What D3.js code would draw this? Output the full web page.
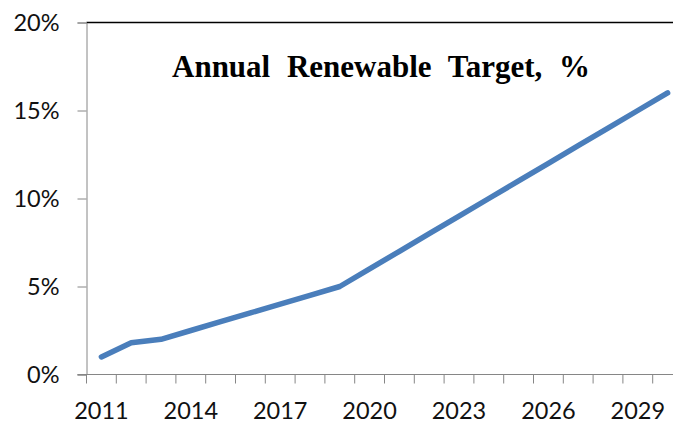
<!DOCTYPE html>
<html><head><meta charset="utf-8">
<script src="https://cdn.jsdelivr.net/npm/d3@7"></script>
<style>
html,body{margin:0;padding:0;background:#fff;}
svg{display:block;}
</style></head>
<body>
<svg id="chart" width="673" height="425"></svg>
<script>
const years = [2011,2012,2013,2014,2015,2016,2017,2018,2019,2020,2021,2022,2023,2024,2025,2026,2027,2028,2029,2030];
const targets = [0.010,0.018,0.020,0.025,0.030,0.035,0.040,0.045,0.050,0.060,0.070,0.080,0.090,0.100,0.110,0.120,0.130,0.140,0.150,0.160];
const yTicks = [0,0.05,0.10,0.15,0.20];
const xLabelYears = [2011,2014,2017,2020,2023,2026,2029];
const title = "Annual Renewable Target, %";

(function(){
const svg = d3.select("#chart");
const mLeft = 86.5, mRight = 86.5 + 20 * 29.8, mTop = 22.5, mBottom = 374.5;

const x = d3.scaleBand().domain(years).range([mLeft, mRight]).paddingInner(0).paddingOuter(0);
const y = d3.scaleLinear().domain([0,0.20]).range([mBottom, mTop]);

// top border line
svg.append("line").attr("x1", mLeft).attr("x2", 673).attr("y1", mTop).attr("y2", mTop)
  .attr("stroke", "#000").attr("stroke-width", 1.5);

// y axis
const yAxis = d3.axisLeft(y).tickValues(yTicks).tickSize(9).tickPadding(18)
  .tickFormat(d => Math.round(d*100) + "%");
const gy = svg.append("g").attr("transform", `translate(${mLeft},0)`).call(yAxis);
gy.select(".domain").attr("stroke", "#868686");
gy.selectAll(".tick line").attr("stroke", "#868686");
gy.selectAll(".tick text").attr("font-family", "Lato, 'Open Sans', sans-serif")
  .attr("font-size", 23.5).attr("fill", "#111");

// x axis: ticks between categories
const boundaries = d3.range(years.length + 1).map(i => mLeft + i * x.bandwidth());
const gx = svg.append("g");
gx.append("line").attr("x1", mLeft - 9).attr("x2", 673).attr("y1", mBottom).attr("y2", mBottom)
  .attr("stroke", "#868686");
gx.selectAll("line.tk").data(boundaries).join("line").attr("class","tk")
  .attr("x1", d => d).attr("x2", d => d).attr("y1", mBottom).attr("y2", mBottom + 9)
  .attr("stroke", "#868686");
gx.selectAll("text").data(xLabelYears).join("text")
  .attr("x", d => x(d) + x.bandwidth()/2).attr("y", 419)
  .attr("text-anchor", "middle")
  .attr("font-family", "Lato, 'Open Sans', sans-serif").attr("font-size", 23.5).attr("fill", "#111")
  .text(d => d);

// line
const line = d3.line().x((d,i) => x(years[i]) + x.bandwidth()/2).y(d => y(d));
svg.append("path").datum(targets).attr("d", line).attr("fill", "none")
  .attr("stroke", "#4a7ebb").attr("stroke-width", 5.5)
  .attr("stroke-linejoin", "round").attr("stroke-linecap", "round");

// title
svg.append("text").attr("x", 381).attr("y", 77).attr("text-anchor", "middle")
  .attr("font-family", "'Liberation Serif', 'Times New Roman', serif")
  .attr("font-weight", "bold").attr("font-size", 31).attr("word-spacing", 9)
  .attr("fill", "#000").text(title);
})();
</script>
</body></html>
